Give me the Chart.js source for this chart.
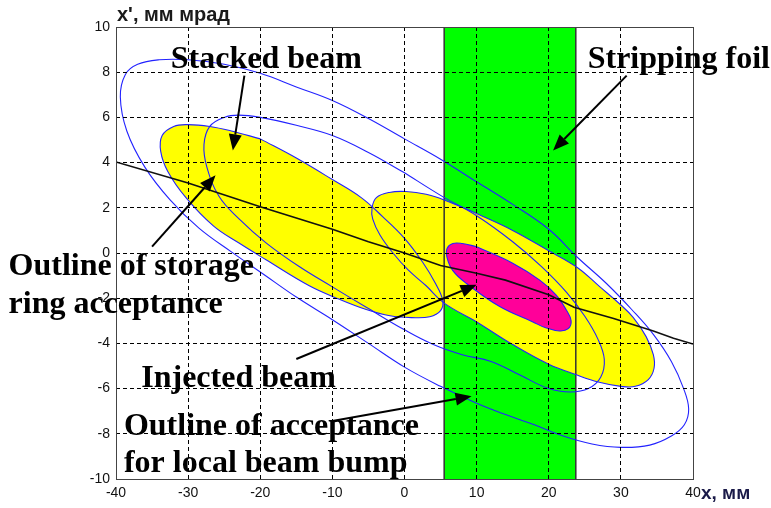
<!DOCTYPE html>
<html>
<head>
<meta charset="utf-8">
<script src="https://cdn.jsdelivr.net/npm/chart.js@4.4.0/dist/chart.umd.min.js"></script>
<style>
  body { margin: 0; background: #fff; }
</style>
</head>
<body>
<canvas id="chart" width="771" height="508"></canvas>
<script>
// phase space x (mm) vs x' (mrad)
const xTickValues = [-40, -30, -20, -10, 0, 10, 20, 30, 40];
const yTickValues = [-10, -8, -6, -4, -2, 0, 2, 4, 6, 8, 10];
const foilRange = [5.5, 23.75];

// outline of acceptance for local beam bump
const bumpAcceptance = [[0,5.05],[5,4.15],[10,3.15],[15,2.15],[20,1.05],[24,-0.2],[28,-1.35],[31.5,-2.5],[34.5,-3.6],[37,-4.8],[38.7,-6.0],[39.4,-6.9],[38.8,-7.6],[37,-8.1],[34,-8.5],[30,-8.6],[26,-8.45],[22,-8.1],[18,-7.6],[14,-7.15],[10,-6.65],[5,-5.9],[0,-5.05],[-5,-4.0],[-10,-2.95],[-15,-1.95],[-19.5,-0.95],[-24,0.05],[-28.5,1.1],[-32.5,2.35],[-36,3.8],[-38.5,5.4],[-39.4,6.9],[-38.7,7.9],[-37,8.35],[-34,8.55],[-30,8.55],[-25,8.35],[-20,7.95],[-15,7.35],[-10,6.75],[-5,5.95],[0,5.05]];
// outline of storage ring acceptance
const ringAcceptance = [[0,3.55],[5,2.55],[10,1.65],[15,0.5],[19,-0.6],[22.5,-1.75],[25,-2.8],[26.8,-3.8],[27.7,-4.7],[27.2,-5.5],[25.5,-6.0],[23,-6.15],[20,-6.0],[16,-5.4],[12,-4.8],[8,-4.5],[4,-4.05],[0,-3.4],[-5.3,-2.4],[-10,-1.5],[-14.6,-0.6],[-19.2,0.45],[-22.9,1.5],[-25.7,2.5],[-27.4,3.8],[-27.8,4.8],[-27,5.6],[-25,6.0],[-23,6.1],[-20,6.0],[-15,5.65],[-10,5.2],[-5,4.45],[0,3.55]];
// stacked beam
const stackedBeam = [[-20,5.05],[-15,4.2],[-10,3.25],[-6,2.45],[-3,1.6],[0,0.65],[2.5,-0.4],[4.3,-1.35],[5.3,-2.1],[5,-2.55],[3.5,-2.82],[1,-2.86],[-2,-2.78],[-5.3,-2.5],[-9,-2.05],[-13.2,-1.45],[-19.2,-0.3],[-23,0.45],[-26.5,1.2],[-30.3,2.45],[-32.8,3.6],[-33.8,4.5],[-33.6,5.2],[-32,5.6],[-30,5.68],[-27,5.6],[-24,5.4],[-20,5.05]];
// stacked beam moved by the bump
const bumpedBeam = [[10,1.75],[15,1.0],[20,0.1],[24,-0.65],[27.1,-1.5],[30,-2.3],[31.7,-2.85],[33.5,-3.7],[34.5,-4.5],[34.6,-5.1],[33.8,-5.6],[32,-5.9],[30,-5.9],[27,-5.72],[23.75,-5.38],[20,-4.92],[15,-4.05],[10,-3.05],[5.5,-2.22],[3,-1.45],[0.5,-0.75],[-1.6,0.0],[-3.4,0.8],[-4.4,1.5],[-4.5,2.0],[-3.9,2.45],[-2.1,2.68],[0.2,2.72],[3,2.6],[5.5,2.35],[10,1.75]];
// injected beam
const injectedBeam = [[10,0.28],[15,-0.45],[18.75,-1.2],[21,-1.85],[22.4,-2.5],[23.1,-3.0],[22.7,-3.35],[21.5,-3.45],[19.5,-3.3],[17.8,-3.05],[13.2,-2.37],[8.6,-1.35],[6.7,-0.78],[5.9,-0.2],[5.9,0.2],[6.7,0.42],[8,0.42],[10,0.28]];
// black line
const orbitLine = [[-40,4.03],[-30,3.1],[-20,2.05],[-10,1.05],[-5,0.5],[0,0.0],[5,-0.55],[10,-0.9],[14,-1.2],[20,-1.85],[23.5,-2.4],[29,-2.9],[34.5,-3.45],[37.3,-3.77],[40,-4.03]];

// labels and arrows (data coordinates)
const labelTexts = ['Stacked beam', 'Stripping foil', 'Outline of storage', 'ring acceptance', 'Injected beam', 'Outline of acceptance', 'for local beam bump'];
const labelAnchors = [[-32.4, 8.17], [25.4, 8.17], [-54.9, -0.97], [-54.9, -2.65], [-36.5, -5.92], [-38.9, -8.04], [-38.9, -9.67]];
const arrowTails = [[-22.2, 7.85], [30.8, 7.85], [-35, 0.28], [-15, -4.69], [-10.2, -7.44]];
const arrowHeads = [[-23.8, 4.54], [20.6, 4.54], [-26.2, 3.44], [10, -1.41], [9.3, -6.34]];

const yRange = [yTickValues[0], yTickValues[yTickValues.length - 1]];
const xy = pts => pts.map(p => ({x: p[0], y: p[1]}));

const blue = '#2222ff';
const yellow = '#ffff00';

function outline(data, order) {
    return {data: xy(data), borderColor: blue, borderWidth: 1.1, tension: 0.4, fill: false, order: order};
}
function filled(data, color, order) {
    return {data: xy(data), borderWidth: 0, borderColor: 'rgba(0,0,0,0)', backgroundColor: color, tension: 0.4, fill: 'shape', order: order};
}

const foilShape = [[foilRange[0], yRange[0]], [foilRange[0], yRange[1]], [foilRange[1], yRange[1]], [foilRange[1], yRange[0]], [foilRange[0], yRange[0]]];

const datasets = [
    {data: xy(foilShape), borderWidth: 0, backgroundColor: '#00ff00', fill: 'shape', tension: 0, order: 20},
    filled(stackedBeam, yellow, 19),
    filled(bumpedBeam, yellow, 18),
    {data: xy([[foilRange[0], yRange[0]], [foilRange[0], yRange[1]]]), borderColor: '#333', borderWidth: 1.5, order: 17},
    {data: xy([[foilRange[1], yRange[0]], [foilRange[1], yRange[1]]]), borderColor: '#333', borderWidth: 1.5, order: 17},
    outline(stackedBeam, 16),
    outline(bumpedBeam, 15),
    outline(bumpAcceptance, 14),
    outline(ringAcceptance, 13),
    {data: xy(injectedBeam), borderColor: blue, borderWidth: 1.1, backgroundColor: '#ff0099', tension: 0.4, fill: 'shape', order: 12},
    {data: xy(orbitLine), borderColor: '#111', borderWidth: 1.6, tension: 0, order: 11}
];

const overlay = {
    id: 'overlay',
    afterDraw(chart) {
        const ctx = chart.ctx;
        const sx = chart.scales.x, sy = chart.scales.y;
        const a = chart.chartArea;
        ctx.save();
        // frame
        ctx.strokeStyle = '#444';
        ctx.lineWidth = 1;
        ctx.strokeRect(a.left + 0.5, a.top + 0.5, a.right - a.left, a.bottom - a.top);

        // arrows
        ctx.strokeStyle = '#000';
        ctx.fillStyle = '#000';
        ctx.lineWidth = 2;
        arrowTails.forEach((t, i) => {
            const x0 = sx.getPixelForValue(t[0]), y0 = sy.getPixelForValue(t[1]);
            const x1 = sx.getPixelForValue(arrowHeads[i][0]), y1 = sy.getPixelForValue(arrowHeads[i][1]);
            const ang = Math.atan2(y1 - y0, x1 - x0);
            const len = 16, half = 6.5;
            const bx = x1 - len * Math.cos(ang), by = y1 - len * Math.sin(ang);
            ctx.beginPath();
            ctx.moveTo(x0, y0);
            ctx.lineTo(bx, by);
            ctx.stroke();
            ctx.beginPath();
            ctx.moveTo(x1, y1);
            ctx.lineTo(bx + half * Math.sin(ang), by - half * Math.cos(ang));
            ctx.lineTo(bx - half * Math.sin(ang), by + half * Math.cos(ang));
            ctx.closePath();
            ctx.fill();
        });

        // labels
        ctx.font = 'bold 32px "Liberation Serif"';
        ctx.textAlign = 'left';
        ctx.textBaseline = 'alphabetic';
        labelTexts.forEach((s, i) => {
            ctx.fillText(s, sx.getPixelForValue(labelAnchors[i][0]), sy.getPixelForValue(labelAnchors[i][1]));
        });

        // axis titles
        ctx.fillStyle = '#1a1a1a';
        ctx.font = 'bold 20px "Liberation Sans"';
        ctx.fillText("x', мм мрад", a.left + 1, a.top - 6);
        ctx.fillStyle = '#1a1a48';
        ctx.font = 'bold 19px "Liberation Sans"';
        ctx.textBaseline = 'middle';
        ctx.fillText('x, мм', a.right + 8, a.bottom + 15);
        ctx.restore();
    }
};

const tickFont = {family: '"Liberation Sans"', size: 14};

new Chart(document.getElementById('chart'), {
    type: 'scatter',
    data: {datasets: datasets},
    options: {
        responsive: false,
        animation: false,
        layout: {padding: {left: 0, right: 78, top: 27, bottom: 0}},
        elements: {point: {radius: 0, hoverRadius: 0}, line: {capBezierPoints: true}},
        datasets: {scatter: {showLine: true}},
        plugins: {legend: {display: false}, tooltip: {enabled: false}},
        scales: {
            x: {
                min: xTickValues[0], max: xTickValues[xTickValues.length - 1],
                afterBuildTicks: axis => { axis.ticks = xTickValues.map(v => ({value: v})); },
                afterFit: axis => { axis.height = 29; },
                grid: {color: '#000', lineWidth: 1, drawTicks: false, z: 1},
                border: {display: false, dash: [4, 3]},
                ticks: {font: tickFont, color: '#111', padding: 6, autoSkip: false, maxRotation: 0}
            },
            y: {
                min: yRange[0], max: yRange[1],
                afterBuildTicks: axis => { axis.ticks = yTickValues.map(v => ({value: v})); },
                afterFit: axis => { axis.width = 116; },
                grid: {color: '#000', lineWidth: 1, drawTicks: false, z: 1},
                border: {display: false, dash: [4, 3]},
                ticks: {font: tickFont, color: '#111', padding: 6, autoSkip: false}
            }
        }
    },
    plugins: [overlay]
});
</script>
</body>
</html>
